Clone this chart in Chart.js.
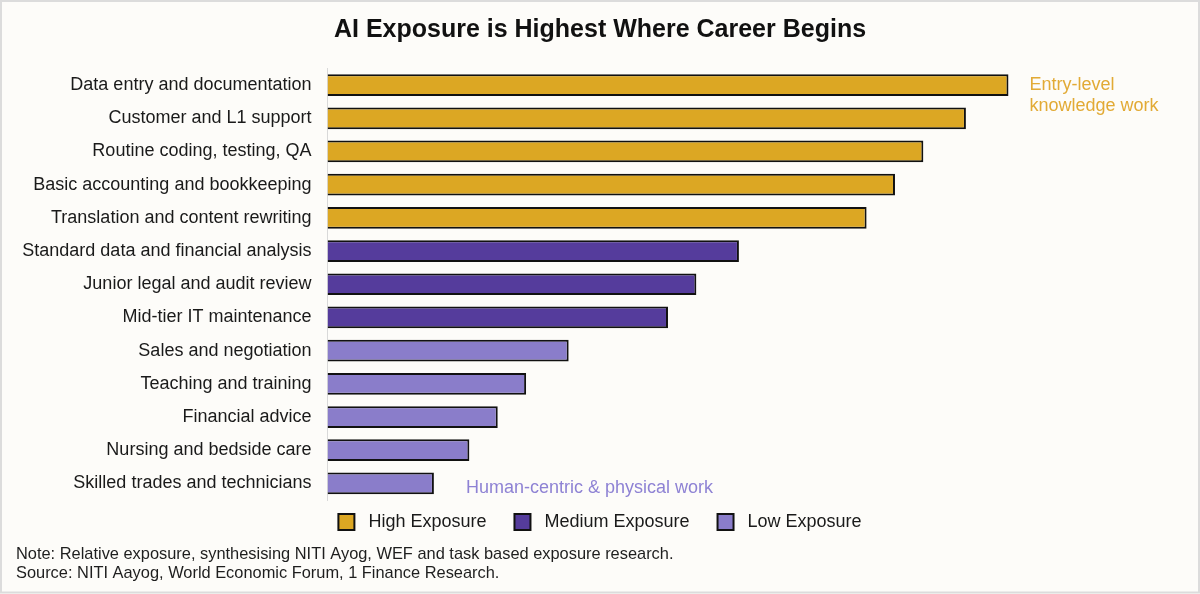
<!DOCTYPE html>
<html>
<head>
<meta charset="utf-8">
<title>AI Exposure</title>
<script src="https://cdn.jsdelivr.net/npm/chart.js@4.4.1/dist/chart.umd.min.js"></script>
<style>
  html, body { margin: 0; padding: 0; background: #fdfcf9; }
  #wrap { width: 1200px; height: 594px; position: relative; }
</style>
</head>
<body>
<div id="wrap"><canvas id="myChart" width="1200" height="594"></canvas></div>
<script>
//* DATA *//
let categories = [
  'Data entry and documentation',
  'Customer and L1 support',
  'Routine coding, testing, QA',
  'Basic accounting and bookkeeping',
  'Translation and content rewriting',
  'Standard data and financial analysis',
  'Junior legal and audit review',
  'Mid-tier IT maintenance',
  'Sales and negotiation',
  'Teaching and training',
  'Financial advice',
  'Nursing and bedside care',
  'Skilled trades and technicians'
];
let exposure = [96, 90, 84, 80, 76, 58, 52, 48, 34, 28, 24, 20, 15];
let levels = ['High', 'High', 'High', 'High', 'High', 'Medium', 'Medium', 'Medium', 'Low', 'Low', 'Low', 'Low', 'Low'];
let levelNames = ['High', 'Medium', 'Low'];
let levelColors = ['#dca723', '#553c9c', '#8a7dca'];

let noteLines = [
  'Note: Relative exposure, synthesising NITI Ayog, WEF and task based exposure research.',
  'Source: NITI Aayog, World Economic Forum, 1 Finance Research.'
];

const FONT = "'Liberation Sans', Arial, Helvetica, sans-serif";

//* one dataset per exposure level so the legend gets 3 entries *//
let datasets = levelNames.map((lvl, k) => ({
  label: lvl + ' Exposure',
  data: exposure.map((v, i) => (levels[i] === lvl ? v : null)),
  backgroundColor: levelColors[k],
  borderColor: '#111111',
  borderWidth: 2,
  categoryPercentage: 1,
  barPercentage: 0.655
}));

//* background, border, notes and side labels *//
let extrasPlugin = {
  id: 'extras',
  beforeDraw(chart) {
    let c = chart.ctx;
    c.save();
    c.fillStyle = '#fdfcf9';
    c.fillRect(0, 0, chart.width, chart.height);
    c.restore();
  },
  afterDraw(chart) {
    let c = chart.ctx;
    let x = chart.scales.x;
    let y = chart.scales.y;
    c.save();
    // border round the picture
    c.strokeStyle = '#dcdcdc';
    c.lineWidth = 2;
    c.strokeRect(1, 1, chart.width - 2, chart.height - 2.5);

    // group labels
    c.font = '18px ' + FONT;
    c.textBaseline = 'alphabetic';
    c.textAlign = 'left';
    c.fillStyle = '#e2aa35';
    let topY = y.getPixelForValue(0);
    let gx = x.getPixelForValue(exposure[0]) + 21;
    c.fillText('Entry-level', gx, topY + 4.5);
    c.fillText('knowledge work', gx, topY + 26);

    let last = exposure.length - 1;
    c.fillStyle = '#8e82d4';
    c.fillText('Human-centric & physical work',
      x.getPixelForValue(exposure[last]) + 32, y.getPixelForValue(last) + 9.7);

    // notes
    c.font = '16.4px ' + FONT;
    c.fillStyle = '#1e1e1e';
    c.fillText(noteLines[0], 16, 559);
    c.fillText(noteLines[1], 16, 578);
    c.restore();
  }
};

let ctx = document.getElementById('myChart');

new Chart(ctx, {
  type: 'bar',
  data: { labels: categories, datasets: datasets },
  options: {
    indexAxis: 'y',
    responsive: false,
    animation: false,
    devicePixelRatio: 1,
    layout: { padding: { left: 0, right: 0, top: 0, bottom: 53 } },
    scales: {
      x: {
        display: false,
        min: 0,
        max: 123,
        stacked: true
      },
      y: {
        stacked: true,
        grid: { display: false, drawTicks: false },
        border: { display: true, color: '#d9d9d9', width: 1 },
        ticks: {
          color: '#1a1a1a',
          padding: 16,
          font: { family: FONT, size: 18 }
        },
        afterFit(scale) { scale.width = 327.5; }
      }
    },
    plugins: {
      title: {
        display: true,
        text: 'AI Exposure is Highest Where Career Begins',
        color: '#111',
        font: { family: FONT, size: 25, weight: 'bold' },
        padding: { top: 15, bottom: 23.5 }
      },
      legend: {
        position: 'bottom',
        labels: {
          boxWidth: 16,
          boxHeight: 16,
          padding: 13,
          color: '#1a1a1a',
          font: { family: FONT, size: 18 },
          generateLabels(chart) {
            let items = Chart.defaults.plugins.legend.labels.generateLabels(chart);
            items.forEach((it, i) => {
              it.text = ' ' + it.text + (i < items.length - 1 ? '   ' : '');
            });
            return items;
          }
        }
      },
      tooltip: { enabled: false }
    }
  },
  plugins: [extrasPlugin]
});
</script>
</body>
</html>
